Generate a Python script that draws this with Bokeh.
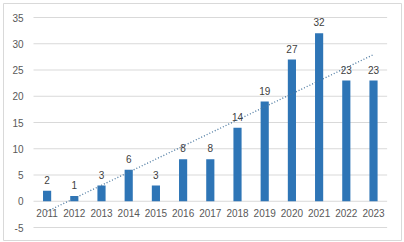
import numpy as np
from bokeh.plotting import figure
from bokeh.models import ColumnDataSource
from bokeh.core.properties import value
from bokeh.embed import file_html
from bokeh.resources import INLINE

years = ["2011", "2012", "2013", "2014", "2015", "2016", "2017",
         "2018", "2019", "2020", "2021", "2022", "2023"]
counts = [2, 1, 3, 6, 3, 8, 8, 14, 19, 27, 32, 23, 23]
y_ticks = [-5, 0, 5, 10, 15, 20, 25, 30, 35]

FONT = value("Liberation Sans")

xs = list(range(len(years)))

p = figure(width=404, height=242, output_backend="svg", toolbar_location=None,
           x_axis_type=None, y_axis_type=None,
           x_range=(-1.603, 13.029), y_range=(-7.476, 37.667),
           min_border_left=3, min_border_right=3, min_border_top=3, min_border_bottom=2)
p.outline_line_color = "#d9d9d9"
p.outline_line_width = 1
p.background_fill_color = "white"
p.border_fill_color = "white"
p.xgrid.visible = False
p.ygrid.visible = False

# gridlines
p.segment(x0=[-0.5] * len(y_ticks), x1=[len(years) - 0.5] * len(y_ticks),
          y0=y_ticks, y1=y_ticks, line_color="#d9d9d9", line_width=1)

# y tick labels
p.text(x=[-0.5] * len(y_ticks), y=y_ticks, text=[str(t) for t in y_ticks],
       x_offset=-10, text_align="right", text_baseline="middle",
       text_font=FONT, text_font_size="10px", text_color="#595959")

src = ColumnDataSource(dict(x=xs, top=counts, lab=[str(c) for c in counts], year=years,
                            zero=[0] * len(xs)))
p.vbar(x="x", top="top", bottom=0, width=0.3, source=src,
       fill_color="#2E75B6", line_color=None)

# value labels
p.text(x="x", y="top", text="lab", source=src, y_offset=-7,
       text_align="center", text_baseline="bottom",
       text_font=FONT, text_font_size="10px", text_color="#404040")

# category labels at y = 0
p.text(x="x", y="zero", text="year", source=src, y_offset=12,
       text_align="center", text_baseline="middle",
       text_font=FONT, text_font_size="10px", text_color="#595959")

# linear trendline
xi = np.arange(1, len(counts) + 1)
slope, intercept = np.polyfit(xi, counts, 1)
p.line(x=[xs[0], xs[-1]], y=[slope * xi[0] + intercept, slope * xi[-1] + intercept],
       line_color="#4a78a0", line_width=1.3, line_dash="1 2")

open("out.html", "w").write(file_html(p, INLINE))
